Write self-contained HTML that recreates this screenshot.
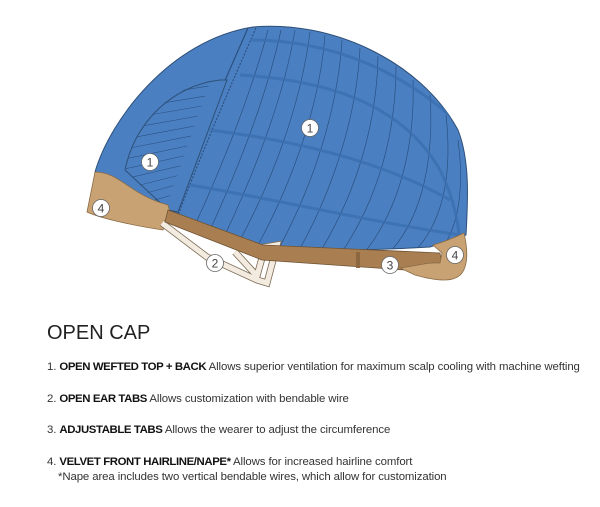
<!DOCTYPE html>
<html><head><style>
body{margin:0;width:600px;height:507px;background:#fff;overflow:hidden;font-family:"Liberation Sans",sans-serif;color:#333;position:relative}
.t{position:absolute;left:47px;font-size:11.4px;white-space:nowrap;letter-spacing:-0.1px}
b{color:#111;font-weight:bold;letter-spacing:-0.4px}
</style></head><body>
<svg width="600" height="300" style="position:absolute;left:0;top:0">
<defs>
<clipPath id="cap"><path d="M95,172 C110,120 170,40 253,27 C330,20 420,60 458,130 C470,160 468,200 466,235 L430,247 C380,250 300,252 262,247 L168,210 Z"/></clipPath>
</defs>
<path d="M95,172 C110,120 170,40 253,27 C330,20 420,60 458,130 C470,160 468,200 466,235 L430,247 C380,250 300,252 262,247 L168,210 Z" fill="#4a80c1" stroke="#2f4f78" stroke-width="1"/>
<g clip-path="url(#cap)" fill="none" stroke="#2c4f80" stroke-width="0.7">
<path d="M248,28 C225,80 195,150 170,212" stroke-width="1.2"/>
<path d="M256,28 C233,80 203,150 178,215" stroke-width="1.2" stroke-dasharray="2,1.5"/>
<g>
<path d="M268,30 C252,90 225,160 195,225"/><path d="M281,30 C268,90 242,160 210,230"/><path d="M295,30 C285,90 260,160 225,235"/><path d="M310,32 C302,95 278,170 240,240"/><path d="M325,35 C320,100 296,175 258,245"/><path d="M342,40 C338,105 316,180 278,250"/><path d="M360,48 C357,110 336,185 298,252"/><path d="M378,56 C377,120 358,190 320,252"/><path d="M396,66 C396,130 380,195 342,252"/><path d="M413,80 C415,140 402,205 365,252"/><path d="M430,95 C434,155 424,215 390,252"/><path d="M446,115 C452,170 445,220 414,252"/><path d="M458,140 C464,185 460,225 440,252"/>
</g>
<g stroke="#3a6fb0" stroke-width="3" opacity=".8">
<path d="M250,40 C330,40 400,70 455,120"/>
<path d="M240,75 C320,80 400,100 440,170 C455,200 460,230 460,250"/>
<path d="M210,130 C290,140 380,160 450,200"/>
<path d="M190,185 C280,200 360,220 460,235"/>
</g>
</g>
<path d="M125,170 C135,120 175,85 220,80 L227,80 L178,212 L168,210 Z" fill="#4a80c1" stroke="#2f4f78" stroke-width="1"/>
<clipPath id="hp"><path d="M125,170 C135,120 175,85 210,82 L165,210 Z"/></clipPath>
<g clip-path="url(#hp)" stroke="#2c4f80" stroke-width="0.6">
<path d="M120,100 L215,85 M120,110 L212,95 M120,120 L208,105 M120,130 L204,115 M120,140 L200,125 M120,150 L196,135 M120,160 L192,145 M120,170 L188,155 M120,180 L184,165 M120,190 L180,175 M120,200 L176,185 M120,210 L172,195"/>
</g>
<path d="M95,172 C120,172 130,195 168,205 L170,212 L163,230 C130,225 100,218 87,212 Z" fill="#c9a274" stroke="#8a6a45" stroke-width="0.8"/>
<path d="M162,223 L207,257 L257,280 L267,283 L277,245 L265,247 L257,276 L235,252" fill="none" stroke="#7a6a55" stroke-width="7" stroke-linejoin="miter"/>
<path d="M162,223 L207,257 L257,280 L267,283 L277,245 L265,247 L257,276 L235,252" fill="none" stroke="#f3ebdf" stroke-width="5.4"/>
<path d="M168,210 L263,245 L440,253 L442,265 L405,270 L262,260 L165,222 Z" fill="#a97f52" stroke="#6e5233" stroke-width="0.8"/>
<path d="M433,245 C450,240 458,236 464,233 C468,250 468,265 462,273 C455,282 440,282 415,275 L400,268 C420,265 430,262 440,263 L442,253 Z" fill="#c9a274" stroke="#8a6a45" stroke-width="0.8"/>
<rect x="356" y="252" width="4" height="16" fill="#8c6740"/>
<g fill="#fff" stroke="#666" stroke-width="0.8" font-size="12" text-anchor="middle" font-family="Liberation Sans,sans-serif">
<circle cx="310" cy="128" r="8.5"/><circle cx="150" cy="162" r="8.5"/><circle cx="101" cy="208" r="8.5"/><circle cx="215" cy="263" r="8.5"/><circle cx="390" cy="265" r="8.5"/><circle cx="455" cy="255" r="8.5"/>
<g fill="#444" stroke="none"><text x="310" y="132.5">1</text><text x="150" y="166.5">1</text><text x="101" y="212.5">4</text><text x="215" y="267.5">2</text><text x="390" y="269.5">3</text><text x="455" y="259.5">4</text></g>
</g>
</svg>
<div class="t" style="top:322px;font-size:20px;color:#222;letter-spacing:0">OPEN CAP</div>
<div class="t" style="top:361px">1. <b>OPEN WEFTED TOP + BACK</b> Allows superior ventilation for maximum scalp cooling with machine wefting</div>
<div class="t" style="top:393px">2. <b>OPEN EAR TABS</b> Allows customization with bendable wire</div>
<div class="t" style="top:424px">3. <b>ADJUSTABLE TABS</b> Allows the wearer to adjust the circumference</div>
<div class="t" style="top:456px">4. <b>VELVET FRONT HAIRLINE/NAPE*</b> Allows for increased hairline comfort</div>
<div class="t" style="top:471px;left:58px">*Nape area includes two vertical bendable wires, which allow for customization</div>
</body></html>
